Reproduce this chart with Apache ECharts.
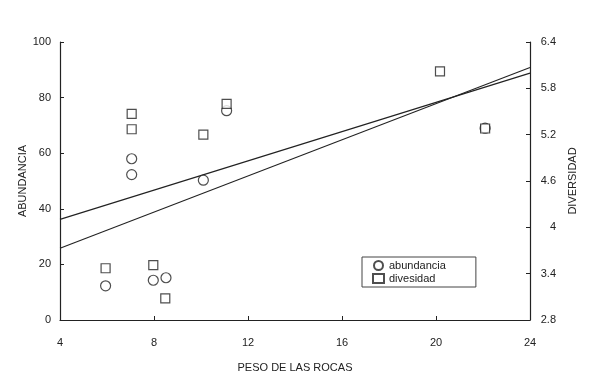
<!DOCTYPE html>
<html>
<head>
<meta charset="utf-8">
<script src="https://cdn.jsdelivr.net/npm/echarts@6/dist/echarts.min.js"></script>
<style>
  html, body { margin: 0; padding: 0; background: #fff; }
  #main { width: 591px; height: 378px; }
</style>
</head>
<body>
<div id="main"></div>
<script>
// peso de las rocas vs abundancia (eje izq.) y diversidad (eje der.)
const xTicks = [4, 8, 12, 16, 20, 24];
const pesoAbund = [5.94, 7.05, 7.05, 7.97, 8.51, 10.1, 11.09, 22.09];
const abundancia = [12.3, 58, 52.3, 14.3, 15.2, 50.3, 75.3, 69];
const pesoDiv = [5.94, 7.05, 7.05, 7.97, 8.48, 10.1, 11.09, 20.17, 22.09];
const diversidad = [3.47, 5.47, 5.27, 3.51, 3.08, 5.2, 5.6, 6.02, 5.28];
const lineaX = [4, 24];
const lineaAbund = [36.2, 88.8];
const lineaDiv = [3.73, 6.07];

const ink = '#222';
const font = 'Liberation Sans';

function pares(xs, ys) {
  return xs.map(function (x, i) { return [x, ys[i]]; });
}

const chart = echarts.init(document.getElementById('main'));
chart.setOption({
  animation: false,
  backgroundColor: '#fff',
  textStyle: { fontFamily: font, color: ink },
  grid: { left: 60, right: 61, top: 42, bottom: 57 },
  legend: {
    left: 362,
    top: 257,
    orient: 'vertical',
    padding: [3, 30, 3, 10],
    itemGap: 2,
    itemWidth: 11,
    itemHeight: 9,
    borderColor: '#444',
    borderWidth: 1,
    textStyle: { fontFamily: font, fontSize: 11, color: ink },
    data: ['abundancia', 'divesidad']
  },
  xAxis: {
    type: 'value',
    min: 4,
    max: 24,
    interval: 4,
    name: 'PESO DE LAS ROCAS',
    nameLocation: 'middle',
    nameGap: 42,
    nameTextStyle: { fontSize: 11, color: ink },
    axisLine: { lineStyle: { color: ink, width: 1.2 } },
    axisTick: { inside: true, length: 4, lineStyle: { color: ink } },
    axisLabel: { margin: 17, fontSize: 11, color: ink },
    splitLine: { show: false }
  },
  yAxis: [
    {
      type: 'value',
      min: 0,
      max: 100,
      interval: 20,
      name: 'ABUNDANCIA',
      nameLocation: 'middle',
      nameGap: 32,
      nameMoveOverlap: false,
      nameRotate: 90,
      nameTextStyle: { fontSize: 11, color: ink },
      axisLine: { show: true, lineStyle: { color: ink, width: 1.2 } },
      axisTick: { show: true, inside: true, length: 4, lineStyle: { color: ink } },
      axisLabel: { margin: 9, fontSize: 11, color: ink },
      splitLine: { show: false }
    },
    {
      type: 'value',
      position: 'right',
      min: 2.8,
      max: 6.4,
      interval: 0.6,
      name: 'DIVERSIDAD',
      nameLocation: 'middle',
      nameGap: 37,
      nameMoveOverlap: false,
      nameRotate: 90,
      nameTextStyle: { fontSize: 11, color: ink },
      axisLine: { show: true, lineStyle: { color: ink, width: 1.2 } },
      axisTick: { show: true, inside: true, length: 4, lineStyle: { color: ink } },
      axisLabel: { margin: 26, align: 'right', fontSize: 11, color: ink },
      splitLine: { show: false }
    }
  ],
  series: [
    {
      name: 'abundancia',
      type: 'scatter',
      yAxisIndex: 0,
      symbol: 'circle',
      symbolSize: 10,
      itemStyle: { color: '#fff', borderColor: ink, borderWidth: 1.2 },
      data: pares(pesoAbund, abundancia),
      z: 3
    },
    {
      name: 'divesidad',
      type: 'scatter',
      yAxisIndex: 1,
      symbol: 'rect',
      symbolSize: 9,
      itemStyle: { color: '#fff', borderColor: ink, borderWidth: 1.2 },
      data: pares(pesoDiv, diversidad),
      z: 4
    },
    {
      name: 'recta abundancia',
      type: 'line',
      yAxisIndex: 0,
      symbol: 'none',
      lineStyle: { color: ink, width: 1.1 },
      data: pares(lineaX, lineaAbund),
      z: 2
    },
    {
      name: 'recta diversidad',
      type: 'line',
      yAxisIndex: 1,
      symbol: 'none',
      lineStyle: { color: ink, width: 1.1 },
      data: pares(lineaX, lineaDiv),
      z: 2
    }
  ]
});
</script>
</body>
</html>
